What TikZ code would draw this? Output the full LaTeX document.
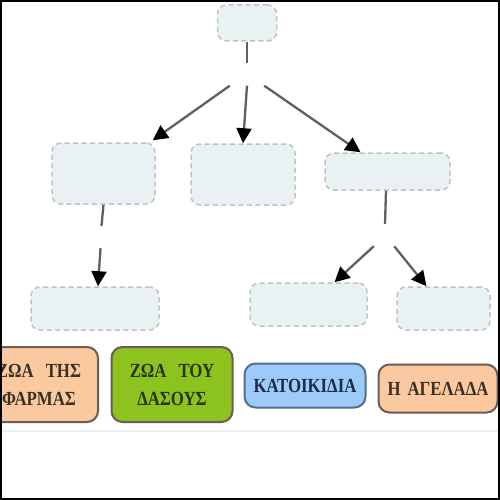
\documentclass[tikz,border=0pt]{standalone}
\usepackage{fontspec}
\setmainfont{Liberation Serif}
\newfontfamily\tagfont[FakeStretch=0.84]{Liberation Serif}
\usetikzlibrary{arrows.meta,positioning,calc}
\definecolor{blankfill}{HTML}{EAF1F3}
\definecolor{blankline}{HTML}{BEC3C6}
\definecolor{linkgrey}{HTML}{606060}
\definecolor{peach}{HTML}{FBC9A0}
\definecolor{leaf}{HTML}{8DC31E}
\definecolor{sky}{HTML}{9CCBFA}
\definecolor{tagline}{HTML}{6B5D55}
\definecolor{tagtext}{HTML}{3A3024}
\tikzset{
  blank/.style={draw=blankline, fill=blankfill, dash pattern=on 5pt off 3.5pt,
    line width=1.5pt, rounded corners=9pt, inner sep=0pt},
  linkpt/.style={inner sep=0pt, minimum height=22pt},
  conn/.style={draw=linkgrey, line width=2.3pt},
  arr/.style={conn, -{Triangle[length=15pt,width=15pt,color=black]}},
  tag/.style={draw=tagline, line width=2pt, rounded corners=11pt, inner sep=0pt,
    text=tagtext, font=\tagfont\bfseries\fontsize{20}{28}\selectfont, align=center},
}
\begin{document}
\begin{tikzpicture}[x=1pt,y=-1pt]
\useasboundingbox (0,0) rectangle (500,500);
\fill[white] (0,0) rectangle (500,500);
\begin{scope}
\clip (0,0) rectangle (500,500);
% top level
\node[blank, minimum width=59pt, minimum height=36pt] (top) at (247,23) {};
\node[linkpt, minimum width=34pt] (lp1) at (247,74.5) {};
% second level
\node[blank, minimum width=103pt, minimum height=61pt] (L1) at (103.5,173.5) {};
\node[blank, minimum width=104pt, minimum height=61pt] (M1) at (243,174.5) {};
\node[blank, minimum width=125pt, minimum height=37pt] (R1) at (387.5,171.5) {};
% links below second level
\node[linkpt, minimum width=2pt] (lp2) at (101,237) {};
\node[linkpt, minimum width=20pt] (lp3) at (384,235) {};
% third level
\node[blank, minimum width=128pt, minimum height=43pt] (L2) at (95,308.5) {};
\node[blank, minimum width=117pt, minimum height=43pt] (R2a) at (308.5,304.5) {};
\node[blank, minimum width=93pt, minimum height=43pt] (R2b) at (443.5,308.5) {};
% connectors
\draw[conn] (top.south) -- (lp1.north);
\draw[arr] (lp1.south west) -- ([xshift=-3pt,yshift=2pt]L1.north east);
\draw[arr] (lp1.south) -- (M1.north);
\draw[arr] (lp1.south east) -- ([xshift=-27pt]R1.north);
\draw[conn] (L1.south) -- ([xshift=0.5pt]lp2.north);
\draw[arr] ([xshift=-0.5pt]lp2.south) -- ([xshift=3pt]L2.north);
\draw[conn] ([xshift=-1.5pt]R1.south) -- ([xshift=1pt]lp3.north);
\draw[arr] (lp3.south west) -- ([xshift=26pt]R2a.north);
\draw[arr] (lp3.south east) -- ([xshift=-17pt]R2b.north);
% bottom tags
\node[tag, fill=peach, minimum width=118pt, minimum height=75pt] (farm) at (39,384.5)
  {ΖΩΑ\hspace{12pt}ΤΗΣ\\ΦΑΡΜΑΣ};
\node[tag, fill=leaf, minimum width=121pt, minimum height=75pt, text={rgb,255:red,40;green,52;blue,10}] (forest) at (172,384.5)
  {ΖΩΑ\hspace{12pt}ΤΟΥ\\ΔΑΣΟΥΣ};
\node[tag, draw={rgb,255:red,85;green,110;blue,140}, fill=sky, minimum width=121pt, minimum height=44pt,
  text={rgb,255:red,30;green,44;blue,72}] (pets) at (305,385.5) {ΚΑΤΟΙΚΙΔΙΑ};
\node[tag, fill=peach, minimum width=119pt, minimum height=48pt] (cow) at (438,388.5)
  {Η\hspace{7pt}ΑΓΕΛΑΔΑ};
% faint rule under the row
\draw[gray!12, line width=1.5pt] (0,431) -- (500,431);
\end{scope}
% frame
\draw[black, line width=2pt] (1,1) rectangle (499,499);
\end{tikzpicture}
\end{document}
